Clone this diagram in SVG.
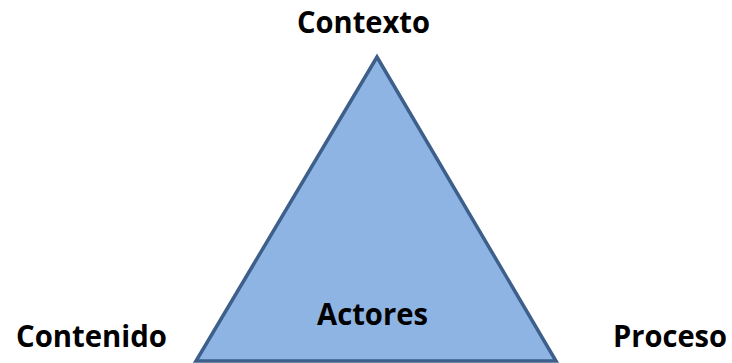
<svg xmlns="http://www.w3.org/2000/svg" width="732" height="363" viewBox="0 0 732 363">
<style>
.lbl{font-family:"Open Sans","Liberation Sans",sans-serif;font-weight:bold;font-size:30px;fill:#000;}
.tri{fill:#8eb4e3;stroke:#3d5f8a;stroke-width:3.5;stroke-linejoin:miter;}
</style>
<rect width="732" height="363" fill="#fff"/>
<g id="triangle">
<polygon class="tri" points="377,57 196,361 556,361"/>
<text class="lbl" x="372.5" y="325" text-anchor="middle" textLength="111" lengthAdjust="spacingAndGlyphs">Actores</text>
</g>
<g id="contexto"><text class="lbl" x="363.5" y="33" text-anchor="middle" textLength="133" lengthAdjust="spacingAndGlyphs">Contexto</text></g>
<g id="contenido"><text class="lbl" x="91.5" y="347" text-anchor="middle" textLength="151" lengthAdjust="spacingAndGlyphs">Contenido</text></g>
<g id="proceso"><text class="lbl" x="670" y="347" text-anchor="middle" textLength="114" lengthAdjust="spacingAndGlyphs">Proceso</text></g>
<g id="connectors"></g>
</svg>
